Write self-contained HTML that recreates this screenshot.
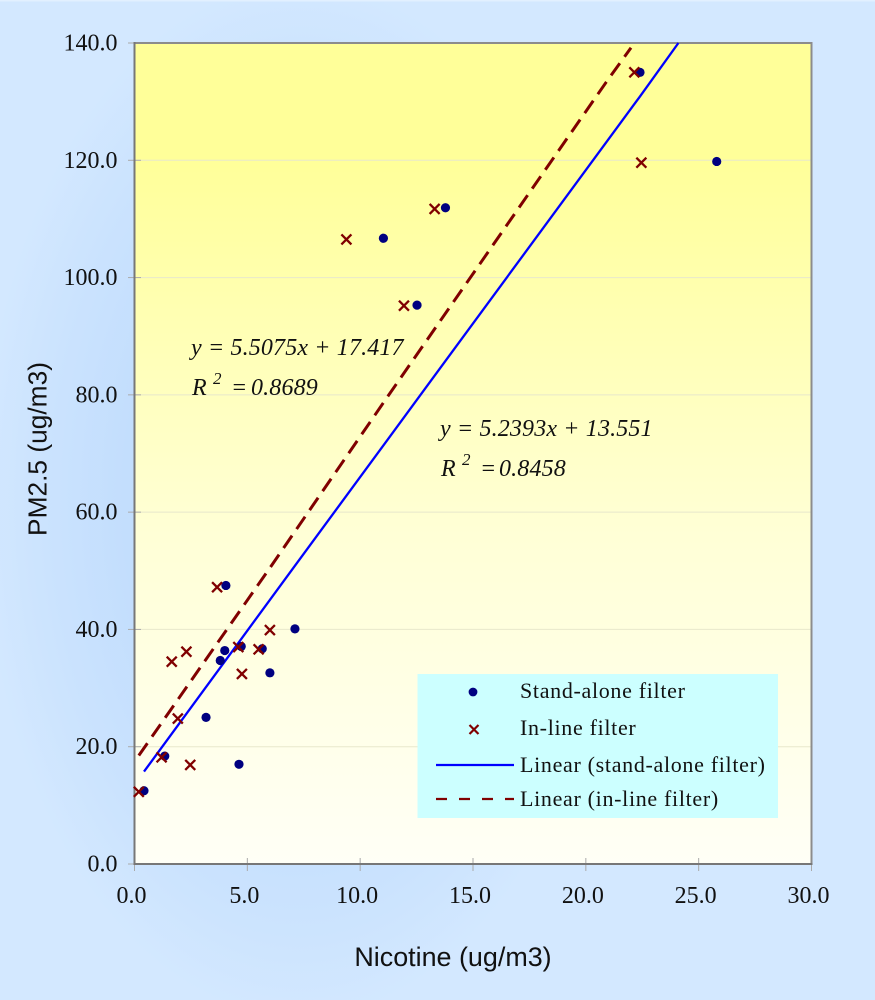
<!DOCTYPE html>
<html lang="en">
<head>
<meta charset="utf-8">
<title>PM2.5 vs Nicotine</title>
<style>
html,body{margin:0;padding:0;width:875px;height:1000px;overflow:hidden;background:#d3e8ff}
svg{display:block}
text{font-family:"Liberation Serif",serif;fill:#111}
.tick{font-size:24px}
.xtitle{font-family:"Liberation Sans",sans-serif;font-size:26.9px}
.ytitle{font-family:"Liberation Sans",sans-serif;font-size:26.3px}
.eq{font-size:24px;font-style:italic;letter-spacing:.15px}
.leg{font-size:22px;letter-spacing:.68px}
</style>
</head>
<body>
<svg id="chart" xmlns="http://www.w3.org/2000/svg" width="875" height="1000" viewBox="0 0 875 1000">
  <defs>
    <radialGradient id="bgGrad" gradientUnits="userSpaceOnUse" cx="300" cy="500" r="1" gradientTransform="translate(300 500) scale(320 520) translate(-300 -500)">
      <stop offset="0" stop-color="#bcdafb"/>
      <stop offset="0.55" stop-color="#c3defd"/>
      <stop offset="0.8" stop-color="#cbe3fe"/>
      <stop offset="1" stop-color="#d3e8ff"/>
    </radialGradient>
    <linearGradient id="plotGrad" x1="0" y1="0" x2="0" y2="1">
      <stop offset="0" stop-color="#ffff99"/>
      <stop offset="0.14" stop-color="#ffff99"/>
      <stop offset="0.6" stop-color="#ffffd6"/>
      <stop offset="1" stop-color="#fffff6"/>
    </linearGradient>
  </defs>
  <rect x="0" y="0" width="875" height="1000" fill="url(#bgGrad)"/>
  <rect x="0" y="0" width="875" height="1.5" fill="#e2f0ff"/>
  <rect x="134.5" y="43" width="677" height="821" fill="url(#plotGrad)"/>
  <g id="grid"></g>
  <g id="axes"></g>
  <g id="trends"></g>
  <g id="marks"></g>

  <text class="xtitle" x="453" y="966" text-anchor="middle">Nicotine (ug/m3)</text>
  <text class="ytitle" transform="translate(46.5 449) rotate(-90)" text-anchor="middle">PM2.5 (ug/m3)</text>

  <text class="eq" x="191" y="355">y = 5.5075x + 17.417</text>
  <text class="eq" x="192" y="395">R<tspan x="213" y="384" font-size="17">2</tspan><tspan x="231" y="395">=</tspan><tspan x="251" y="395">0.8689</tspan></text>
  <text class="eq" x="440" y="436">y = 5.2393x + 13.551</text>
  <text class="eq" x="441" y="476">R<tspan x="462" y="465" font-size="17">2</tspan><tspan x="480" y="476">=</tspan><tspan x="499" y="476">0.8458</tspan></text>

  <g>
    <rect x="417.5" y="674" width="360.5" height="144" fill="#ccffff"/>
    <circle cx="473" cy="692" r="4.4" fill="#000080"/>
    <text class="leg" x="520" y="698">Stand-alone filter</text>
    <path d="M469.5 725l9 9M478.5 725l-9 9" stroke="#800000" stroke-width="2.2" fill="none"/>
    <text class="leg" x="520" y="735">In-line filter</text>
    <line x1="436" y1="765" x2="514" y2="765" stroke="#0000ff" stroke-width="2.2"/>
    <text class="leg" x="520" y="772">Linear (stand-alone filter)</text>
    <line x1="436" y1="799" x2="514" y2="799" stroke="#800000" stroke-width="2.2" stroke-dasharray="11 12"/>
    <text class="leg" x="520" y="806">Linear (in-line filter)</text>
  </g>
</svg>
<script>
const xTicks = [0, 5, 10, 15, 20, 25, 30];
const yTicks = [0, 20, 40, 60, 80, 100, 120, 140];
const xTickLabels = ["0.0", "5.0", "10.0", "15.0", "20.0", "25.0", "30.0"];
const yTickLabels = ["0.0", "20.0", "40.0", "60.0", "80.0", "100.0", "120.0", "140.0"];
const standaloneX = [0.42, 1.34, 3.17, 4.63, 3.8, 4.0, 4.73, 5.66, 6.0, 7.11, 4.05, 11.03, 12.52, 13.78, 22.4, 25.8];
const standaloneY = [12.5, 18.4, 25.0, 17.0, 34.7, 36.4, 37.1, 36.7, 32.6, 40.1, 47.5, 106.7, 95.3, 111.9, 135.0, 119.8];
const inlineX = [0.19, 1.2, 2.47, 1.92, 1.65, 2.3, 4.6, 5.5, 4.76, 6.0, 3.66, 9.39, 11.94, 13.3, 22.15, 22.46];
const inlineY = [12.3, 18.2, 16.9, 24.8, 34.5, 36.2, 37.0, 36.6, 32.4, 39.9, 47.2, 106.5, 95.2, 111.7, 135.0, 119.6];
const standaloneTrendX = [0.42, 7.1, 13.8, 22.4, 24.1];
const standaloneTrendY = [15.75, 50.8, 85.9, 130.9, 140];
const inlineTrendX = [0.19, 6.0, 11.2, 20.9, 22.0];
const inlineTrendY = [18.5, 50.5, 79.6, 133.3, 139.2];

const SVG_NS = "http://www.w3.org/2000/svg";
function xScale(v) { return 134.5 + (v - 0) * (677 / 30); }
function yScale(v) { return 864 - (v - 0) * (821 / 140); }
function make(tag, attrs, parent) {
  const el = document.createElementNS(SVG_NS, tag);
  for (const k in attrs) el.setAttribute(k, attrs[k]);
  parent.appendChild(el);
  return el;
}
const grid = document.getElementById("grid");
const axes = document.getElementById("axes");
const trends = document.getElementById("trends");
const marks = document.getElementById("marks");

yTicks.forEach(function (t, i) {
  const y = yScale(t);
  if (t > 0 && t < 140) {
    const g = make("line", { x1: 134.5, x2: 811.5, y1: y, y2: y, stroke: "#e8e8cc", "stroke-width": 1 }, grid);
    
    
  }
  const tk = make("line", { x1: 128, x2: 141, y1: y, y2: y, stroke: "#aaa", "stroke-width": 1 }, axes);
  
  
  const lb = make("text", { x: 117.5, y: y + 7.5, "text-anchor": "end", class: "tick" }, axes);
  
  
  lb.textContent = yTickLabels[i];
});

xTicks.forEach(function (t, i) {
  const x = xScale(t);
  const tk = make("line", { x1: x, x2: x, y1: 858, y2: 871, stroke: "#aaa", "stroke-width": 1 }, axes);
  
  
  const lb = make("text", { x: x - 3, y: 903, "text-anchor": "middle", class: "tick" }, axes);
  
  
  lb.textContent = xTickLabels[i];
});

const topEdge = make("line", { x1: 134.5, x2: 812.5, y1: 43, y2: 43, stroke: "#8c8c8c", "stroke-width": 2 }, axes);


const rightEdge = make("line", { x1: 811.5, x2: 811.5, y1: 43, y2: 864, stroke: "#8c8c8c", "stroke-width": 2 }, axes);


const yAxisLine = make("line", { x1: 134.5, x2: 134.5, y1: 42, y2: 865, stroke: "#777", "stroke-width": 2 }, axes);


const xAxisLine = make("line", { x1: 134, x2: 812.5, y1: 864, y2: 864, stroke: "#777", "stroke-width": 2 }, axes);



function pointsFor(xs, ys) {
  return xs.map(function (v, i) { return xScale(v).toFixed(1) + "," + yScale(ys[i]).toFixed(1); }).join(" ");
}
const blueTrend = make("polyline", { points: pointsFor(standaloneTrendX, standaloneTrendY), fill: "none", stroke: "#0000ff", "stroke-width": 2.3 }, trends);


const redTrend = make("polyline", { points: pointsFor(inlineTrendX, inlineTrendY), fill: "none", stroke: "#800000", "stroke-width": 3, "stroke-dasharray": "15 8" }, trends);



standaloneX.forEach(function (v, i) {
  const c = make("circle", { cx: xScale(v), cy: yScale(standaloneY[i]), r: 4.6, fill: "#000080" }, marks);
  
  
});
inlineX.forEach(function (v, i) {
  const px = xScale(v);
  const py = yScale(inlineY[i]);
  const d = "M" + (px - 5) + " " + (py - 5) + "L" + (px + 5) + " " + (py + 5) + "M" + (px + 5) + " " + (py - 5) + "L" + (px - 5) + " " + (py + 5);
  const m = make("path", { d: d, fill: "none", stroke: "#800000", "stroke-width": 2.3 }, marks);
  
  
});
</script>
</body>
</html>
